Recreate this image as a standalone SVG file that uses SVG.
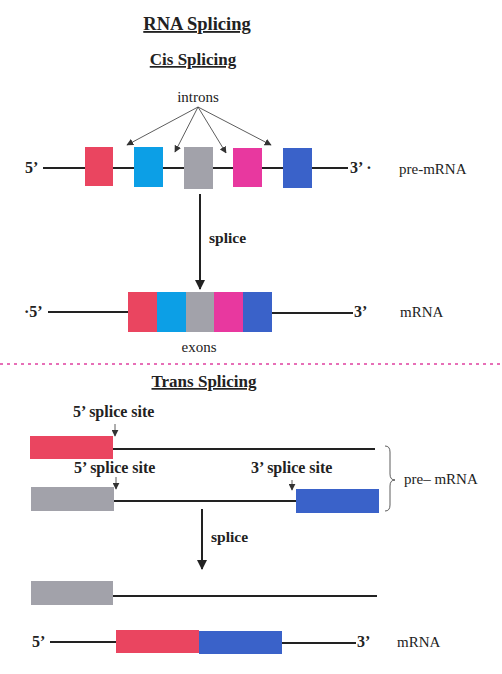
<svg xmlns="http://www.w3.org/2000/svg" width="502" height="674" viewBox="0 0 502 674">
<defs>
<style>
.t{font-family:"Liberation Serif","Times New Roman",serif;fill:#222}
.b{font-weight:bold}
.ln{stroke:#222;stroke-width:2;fill:none}
.thin{stroke:#333;stroke-width:0.8;fill:none}
.red{fill:#ea4560}
.sky{fill:#0c9fe6}
.gray{fill:#a2a2aa}
.mag{fill:#e8389f}
.blu{fill:#3a62c9}
</style>
<marker id="ah" viewBox="0 0 10 10" refX="9" refY="5" markerWidth="7" markerHeight="7" markerUnits="userSpaceOnUse" orient="auto"><path d="M0,0 L10,5 L0,10 z" fill="#333"/></marker>
<marker id="ab" viewBox="0 0 10 10" refX="9" refY="5" markerWidth="10" markerHeight="10" markerUnits="userSpaceOnUse" orient="auto"><path d="M0,0 L10,5 L0,10 z" fill="#222"/></marker>
</defs>
<rect width="502" height="674" fill="#fff"/>

<g id="titles">
<text class="t b" x="197" y="30" font-size="18.5" text-anchor="middle" text-decoration="underline">RNA Splicing</text>
<text class="t b" x="193" y="65" font-size="17" text-anchor="middle" text-decoration="underline">Cis Splicing</text>
<text class="t b" x="204" y="387" font-size="17" text-anchor="middle" text-decoration="underline">Trans Splicing</text>
</g>

<g id="divider"><line x1="0" y1="364" x2="500" y2="364" stroke="#e040a0" stroke-width="1.3" stroke-dasharray="3,4"/></g>

<g id="connectors">
<line class="thin" x1="198" y1="107" x2="127" y2="145" marker-end="url(#ah)"/>
<line class="thin" x1="198" y1="107" x2="175" y2="152" marker-end="url(#ah)"/>
<line class="thin" x1="198" y1="107" x2="226" y2="153" marker-end="url(#ah)"/>
<line class="thin" x1="198" y1="107" x2="271" y2="145" marker-end="url(#ah)"/>
<line class="ln" x1="200" y1="194" x2="200" y2="289" marker-end="url(#ab)"/>
<line class="ln" x1="202" y1="509" x2="202" y2="569" marker-end="url(#ab)"/>
<line class="thin" x1="115" y1="424" x2="115" y2="436" marker-end="url(#ah)"/>
<line class="thin" x1="116" y1="477" x2="116" y2="489" marker-end="url(#ah)"/>
<line class="thin" x1="292" y1="480" x2="292" y2="490" marker-end="url(#ah)"/>
</g>

<g id="pre-mrna-cis">
<line class="ln" x1="43" y1="168" x2="348" y2="168"/>
<rect class="red" x="85" y="147" width="28" height="39"/>
<rect class="sky" x="134" y="147" width="29" height="40"/>
<rect class="gray" x="184" y="147" width="29" height="42"/>
<rect class="mag" x="233" y="148" width="29" height="39"/>
<rect class="blu" x="283" y="148" width="29" height="40"/>
<text class="t b" x="25" y="173" font-size="16">5’</text>
<text class="t b" x="350" y="173" font-size="16">3’ ·</text>
<text class="t" x="399" y="174" font-size="15">pre-mRNA</text>
<text class="t" x="198" y="102" font-size="15" text-anchor="middle">introns</text>
<text class="t b" x="209" y="243" font-size="15.5">splice</text>
</g>

<g id="mrna-cis">
<line class="ln" x1="48" y1="312" x2="128" y2="312"/>
<line class="ln" x1="272" y1="313" x2="353" y2="313"/>
<rect class="red" x="128" y="292" width="29" height="40"/>
<rect class="sky" x="157" y="292" width="29" height="40"/>
<rect class="gray" x="186" y="292" width="28" height="40"/>
<rect class="mag" x="214" y="292" width="29" height="40"/>
<rect class="blu" x="243" y="292" width="29" height="40"/>
<text class="t b" x="24" y="317" font-size="16">·5’</text>
<text class="t b" x="354" y="317" font-size="16">3’</text>
<text class="t" x="400" y="317" font-size="15">mRNA</text>
<text class="t" x="199" y="352" font-size="15" text-anchor="middle">exons</text>
</g>

<g id="pre-mrna-trans">
<line class="ln" x1="113" y1="449" x2="375" y2="449"/>
<rect class="red" x="30" y="436" width="83" height="23"/>
<text class="t b" x="73" y="417" font-size="16">5’ splice site</text>
<line class="ln" x1="114" y1="501" x2="296" y2="501"/>
<rect class="gray" x="31" y="487" width="83" height="24"/>
<rect class="blu" x="296" y="489" width="83" height="24"/>
<text class="t b" x="74" y="473" font-size="16">5’ splice site</text>
<text class="t b" x="251" y="473" font-size="16">3’ splice site</text>
<path class="thin" d="M385,446 Q390,446 390,452 L390,474 Q390,480 395,480 Q390,480 390,486 L390,505 Q390,511 385,511" stroke-width="1"/>
<text class="t" x="404" y="484" font-size="15">pre– mRNA</text>
<text class="t b" x="211" y="542" font-size="15.5">splice</text>
</g>

<g id="products-trans">
<rect class="gray" x="31" y="581" width="82" height="24"/>
<line class="ln" x1="113" y1="596" x2="377" y2="596"/>
<line class="ln" x1="50" y1="642" x2="116" y2="642"/>
<rect class="red" x="116" y="630" width="83" height="23"/>
<rect class="blu" x="199" y="631" width="83" height="23"/>
<line class="ln" x1="282" y1="643" x2="356" y2="643"/>
<text class="t b" x="32" y="647" font-size="16">5’</text>
<text class="t b" x="357" y="647" font-size="16">3’</text>
<text class="t" x="397" y="647" font-size="15">mRNA</text>
</g>
</svg>
